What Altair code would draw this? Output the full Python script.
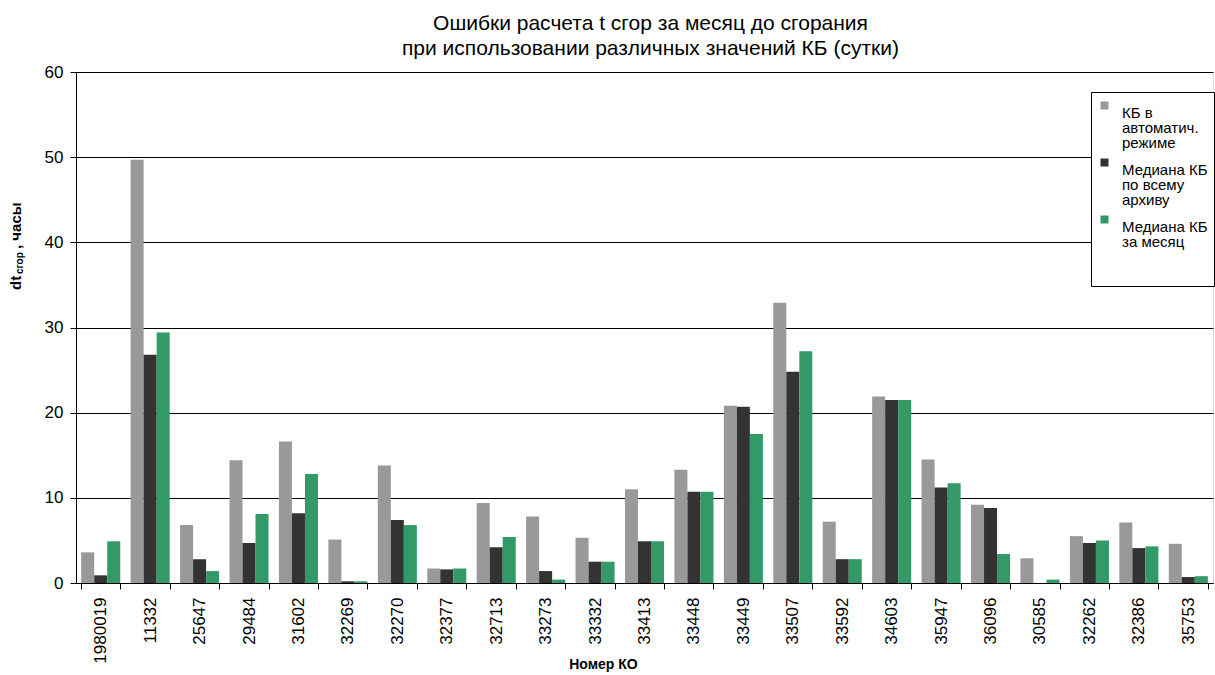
import altair as alt
import pandas as pd

categories = ["1980019", "11332", "25647", "29484", "31602", "32269", "32270", "32377",
              "32713", "33273", "33332", "33413", "33448", "33449", "33507", "33592",
              "34603", "35947", "36096", "30585", "32262", "32386", "35753"]

series_names = ["КБ в автоматич. режиме", "Медиана КБ по всему архиву", "Медиана КБ за месяц"]
legend_lines = [["КБ в", "автоматич.", "режиме"],
                ["Медиана КБ", "по всему", "архиву"],
                ["Медиана КБ", "за месяц", "", ""]]
series_colors = ["#999999", "#333333", "#339966"]

auto_kb = [3.6, 49.7, 6.8, 14.4, 16.6, 5.1, 13.8, 1.7, 9.4, 7.8, 5.3, 11.0, 13.3, 20.8,
           32.9, 7.2, 21.9, 14.5, 9.2, 2.9, 5.5, 7.1, 4.6]
median_all = [0.9, 26.8, 2.8, 4.7, 8.2, 0.2, 7.4, 1.6, 4.2, 1.4, 2.5, 4.9, 10.7, 20.7,
              24.8, 2.8, 21.5, 11.2, 8.8, 0.0, 4.7, 4.1, 0.7]
median_month = [4.9, 29.4, 1.4, 8.1, 12.8, 0.2, 6.8, 1.7, 5.4, 0.4, 2.5, 4.9, 10.7, 17.5,
                27.2, 2.8, 21.5, 11.7, 3.4, 0.4, 5.0, 4.3, 0.8]

rows = []
for name, vals in zip(series_names, [auto_kb, median_all, median_month]):
    for c, v in zip(categories, vals):
        rows.append({"ko": c, "series": name, "value": v})
df = pd.DataFrame(rows)

FONT = "Liberation Sans"
W, H = 1137, 511

# legend label expression with line breaks
parts = []
for name, lines in zip(series_names, legend_lines):
    arr = "[" + ",".join("'" + l + "'" for l in lines) + "]"
    parts.append(f"datum.label == '{name}' ? {arr} : ")
label_expr = "".join(parts) + "datum.label"

bars = alt.Chart(df).mark_bar().encode(
    x=alt.X("ko:N", sort=categories,
            scale=alt.Scale(paddingInner=0.21, paddingOuter=0.105),
            axis=alt.Axis(title="Номер КО", labelAngle=-90, labelFont=FONT, labelFontSize=17,
                          labelColor="#000000", labelPadding=8, tickBand="extent",
                          tickSize=6, tickColor="#000000", domainColor="#000000",
                          titleFont=FONT, titleFontSize=14, titleFontWeight="bold",
                          titleX=527, titleY=81, titleAlign="center", titleBaseline="middle")),
    xOffset=alt.XOffset("series:N", sort=series_names),
    y=alt.Y("value:Q", scale=alt.Scale(domain=[0, 60], nice=False),
            axis=alt.Axis(title=None, values=[0, 10, 20, 30, 40, 50, 60], grid=True,
                          gridColor="#000000", gridWidth=1, gridOpacity=1,
                          labelFont=FONT, labelFontSize=17, labelColor="#000000",
                          tickSize=6, tickColor="#000000", domainColor="#000000",
                          labelPadding=7)),
    color=alt.Color("series:N", sort=series_names,
                    scale=alt.Scale(domain=series_names, range=series_colors),
                    legend=alt.Legend(title=None, orient="none", legendX=1015, legendY=20,
                                      fillColor="#ffffff", strokeColor="#000000",
                                      padding=6, symbolType="square", symbolSize=64,
                                      symbolStrokeWidth=0,
                                      labelFont=FONT, labelFontSize=15, labelColor="#000000",
                                      labelExpr=label_expr, labelLimit=0, rowPadding=4,
                                      labelBaseline="top", labelOffset=10)),
)

title_dt = alt.Chart(pd.DataFrame({"t": ["dt"]})).mark_text(
    angle=270, align="left", baseline="alphabetic", font=FONT, fontSize=15, fontWeight="bold",
    color="#000000").encode(text="t:N", x=alt.value(-55), y=alt.value(218))
title_sub = alt.Chart(pd.DataFrame({"t": ["сгор"]})).mark_text(
    angle=270, align="left", baseline="alphabetic", font=FONT, fontSize=10, fontWeight="bold",
    color="#000000").encode(text="t:N", x=alt.value(-53), y=alt.value(202))
title_rest = alt.Chart(pd.DataFrame({"t": [" , часы"]})).mark_text(
    angle=270, align="left", baseline="alphabetic", font=FONT, fontSize=15, fontWeight="bold",
    color="#000000").encode(text="t:N", x=alt.value(-55), y=alt.value(177))

chart = alt.layer(bars, title_dt, title_sub, title_rest).properties(
    width=W, height=H,
    title=alt.TitleParams(["Ошибки расчета t сгор за месяц до сгорания",
                           "при использовании различных значений КБ (сутки)"],
                          font=FONT, fontSize=21, fontWeight="normal", color="#000000",
                          anchor="middle", dx=6, offset=4, lineHeight=25),
    autosize=alt.AutoSizeParams(type="none"),
    padding={"left": 76, "top": 72, "right": 2, "bottom": 90},
).configure_view(stroke=None).configure(
    background="#ffffff",
    style={"guide-label": {"lineHeight": 15}},
)

chart.save("out.html", embed_options={"renderer": "svg", "actions": False})
